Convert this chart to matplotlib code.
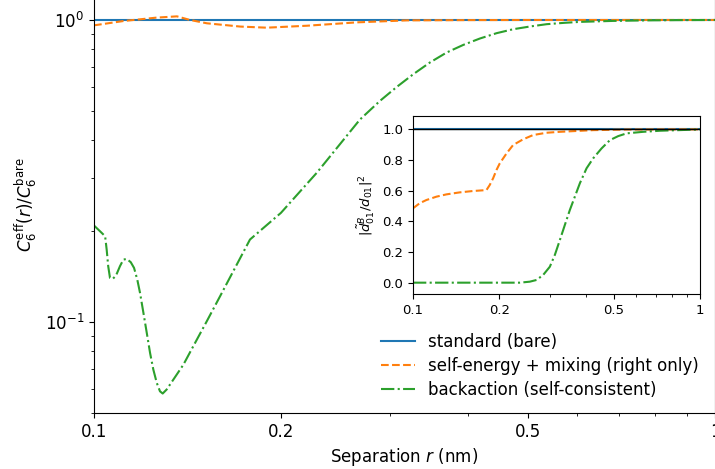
import numpy as np
import matplotlib
matplotlib.use("Agg")
import matplotlib.pyplot as plt
from matplotlib.ticker import NullFormatter

# main panel: C6 ratio vs separation
r_std = np.array([0.1, 1.0])
c_std = np.array([1.0, 1.0])

r_mix = np.array([0.1, 0.1115, 0.126, 0.136, 0.1428, 0.152, 0.172, 0.1897,
                  0.220, 0.265, 0.319, 0.40, 0.50, 1.0])
c_mix = np.array([0.960, 0.992, 1.018, 1.028, 1.0, 0.975, 0.951, 0.943,
                  0.957, 0.982, 0.997, 0.999, 1.0, 1.0])

r_back = np.array([0.1, 0.1022, 0.1042, 0.1048, 0.1054, 0.1061, 0.1072, 0.1085,
                   0.1101, 0.1115, 0.1129, 0.1146, 0.1160, 0.1174, 0.1186,
                   0.1201, 0.1216, 0.1231, 0.1246, 0.1262, 0.1277, 0.1290,
                   0.1309, 0.1342, 0.1393, 0.1445, 0.1519, 0.1596, 0.1783,
                   0.2, 0.2284, 0.268, 0.2887, 0.3073, 0.3267, 0.3475, 0.3698,
                   0.3933, 0.4183, 0.4450, 0.4734, 0.5036, 0.5358, 0.5698,
                   0.606, 0.6859, 0.776, 0.88, 1.0])
c_back = np.array([0.2087, 0.2000, 0.1924, 0.1738, 0.1531, 0.1400, 0.1390, 0.1426,
                   0.1531, 0.1610, 0.1618, 0.1578, 0.1511, 0.1382, 0.1249,
                   0.1073, 0.0921, 0.0790, 0.0696, 0.0629, 0.0590, 0.0580,
                   0.0598, 0.0645, 0.0723, 0.0832, 0.1006, 0.1218, 0.1876,
                   0.2299, 0.312, 0.468, 0.5397, 0.6004, 0.6615, 0.7233, 0.7806,
                   0.8271, 0.8684, 0.9044, 0.9322, 0.9515, 0.9685, 0.978,
                   0.9856, 0.993, 0.997, 0.999, 1.0])

# inset: dipole suppression
ri_mix = np.array([0.1, 0.1055, 0.1113, 0.1207, 0.1308, 0.1455, 0.1619, 0.1803,
                   0.1851, 0.1901, 0.1954, 0.2006, 0.2118, 0.2233, 0.2419,
                   0.2622, 0.2920, 0.3249, 0.4245, 0.555, 1.0])
di_mix = np.array([0.485, 0.518, 0.539, 0.561, 0.576, 0.589, 0.598, 0.604,
                   0.637, 0.680, 0.735, 0.778, 0.843, 0.898, 0.935,
                   0.963, 0.978, 0.984, 0.995, 0.999, 1.0])

ri_back = np.array([0.1, 0.2356, 0.2553, 0.2694, 0.2841, 0.2998, 0.3121, 0.3249,
                    0.3381, 0.3520, 0.3664, 0.3814, 0.4025, 0.4245, 0.4541,
                    0.4856, 0.5188, 0.555, 0.634, 0.7252, 0.945, 1.0])
di_back = np.array([0.0, 0.0, 0.0065, 0.0176, 0.050, 0.104, 0.181, 0.278,
                    0.376, 0.474, 0.561, 0.648, 0.746, 0.811, 0.876,
                    0.930, 0.956, 0.974, 0.984, 0.991, 0.998, 1.0])

xticks = [0.1, 0.2, 0.5, 1]
xticklabels = ["0.1", "0.2", "0.5", "1"]

fig = plt.figure(figsize=(7.15, 4.69), dpi=100)
ax = fig.add_axes([0.1315, 0.1194, 0.8685, 0.889])
ax.plot(r_std, c_std, '-', color='C0', lw=1.5, label='standard (bare)')
ax.plot(r_mix, c_mix, '--', color='C1', lw=1.5, label='self-energy + mixing (right only)')
ax.plot(r_back, c_back, '-.', color='C2', lw=1.5, label='backaction (self-consistent)')
ax.set_xscale('log')
ax.set_yscale('log')
ax.set_xlim(0.1, 1.0)
ax.set_ylim(0.05, 1.2)
ax.set_xticks(xticks)
ax.set_xticklabels(xticklabels, fontsize=12)
ax.xaxis.set_minor_formatter(NullFormatter())
ax.yaxis.set_minor_formatter(NullFormatter())
ax.tick_params(axis='y', labelsize=12)
ax.set_xlabel('Separation $r$ (nm)', fontsize=12)
ax.set_ylabel(r'$C_6^{\mathrm{eff}}(r)/C_6^{\mathrm{bare}}$', fontsize=12)
ax.legend(loc='lower right', bbox_to_anchor=(0.998, -0.003), frameon=False,
          fontsize=12, labelspacing=0.38)

ins = fig.add_axes([0.5776, 0.3731, 0.4014, 0.3795])
ins.plot(r_std, c_std, '-', color='C0', lw=1.5)
ins.plot(ri_mix, di_mix, '--', color='C1', lw=1.5)
ins.plot(ri_back, di_back, '-.', color='C2', lw=1.5)
ins.axhline(1.0, color='k', lw=1)
ins.set_xscale('log')
ins.set_xlim(0.1, 1.0)
ins.set_ylim(-0.074, 1.087)
ins.set_xticks(xticks)
ins.set_xticklabels(xticklabels, fontsize=9.5)
ins.xaxis.set_minor_formatter(NullFormatter())
ins.tick_params(axis='y', labelsize=9.5)
ins.set_ylabel(r'$|\tilde{d}^{B}_{01}/d_{01}|^2$', fontsize=9.5)

fig.savefig('out.png', dpi=100)
